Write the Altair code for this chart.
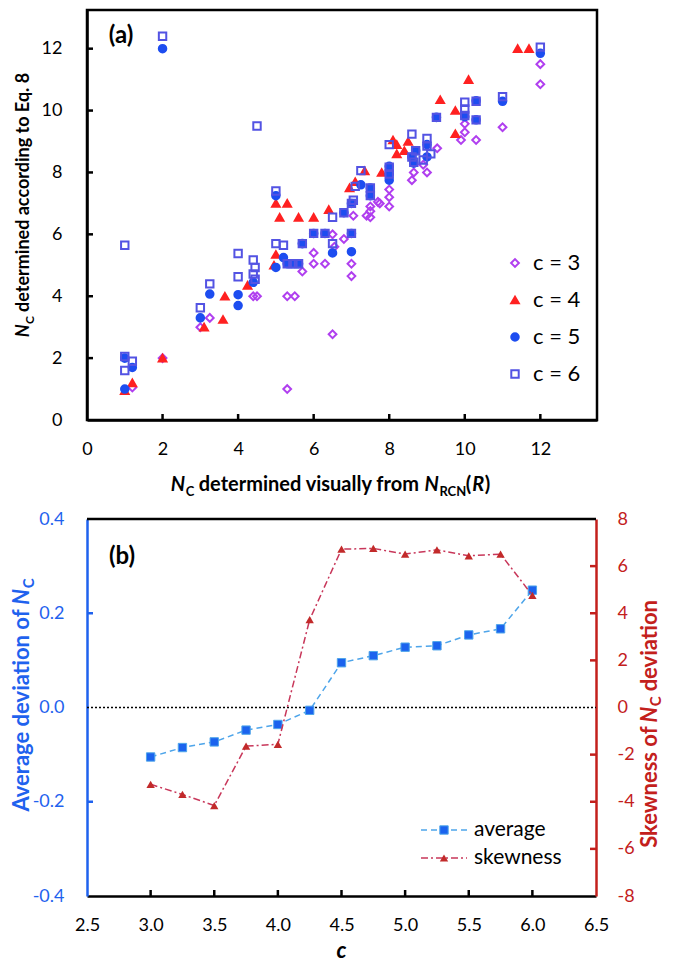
import altair as alt
import pandas as pd

FONT = "Lato"

# ---------------- panel (a) data ----------------
series_names = ["c = 3", "c = 4", "c = 5", "c = 6"]

c3_x = [1.2, 2.0, 3.0, 3.25, 4.4, 4.5, 5.3, 5.3, 5.5, 5.7, 6.0, 6.0, 6.3, 6.5, 6.5, 6.55, 6.8, 7.0, 7.0, 7.05,
        7.4, 7.5, 7.5, 7.5, 7.7, 7.75, 8.0, 8.0, 8.0, 8.6, 8.65, 8.9, 9.0, 9.27, 9.9, 10.0, 10.0, 10.3, 11.0, 12.0, 12.0]
c3_y = [1.05, 2.0, 3.0, 3.3, 4.0, 4.0, 4.0, 1.0, 4.0, 4.8, 5.4, 5.05, 5.05, 6.0, 2.77, 5.6, 5.85, 5.05, 4.65, 6.6,
        6.6, 6.9, 6.55, 6.75, 7.05, 7.0, 6.9, 7.2, 7.45, 7.75, 8.0, 8.25, 8.0, 8.78, 9.05, 9.3, 9.57, 9.05, 9.46, 11.5, 10.85]

c4_x = [1.0, 1.2, 2.0, 3.1, 3.6, 3.65, 4.25, 4.95, 5.0, 5.0, 5.3, 5.1, 5.6, 6.0, 6.4, 6.95, 7.1, 7.35, 7.8, 8.1,
        8.2, 8.2, 8.4, 8.5, 9.35, 9.75, 9.75, 10.1, 11.4, 11.7]
c4_y = [0.95, 1.2, 2.0, 3.0, 3.25, 4.0, 4.35, 5.0, 5.35, 7.0, 7.0, 6.55, 6.55, 6.55, 6.8, 7.5, 7.7, 8.05, 8.0, 9.05,
        8.9, 8.6, 8.7, 9.0, 10.35, 10.0, 9.25, 11.0, 12.0, 12.0]

c5_x = [1.0, 1.0, 1.2, 2.0, 3.0, 3.25, 4.0, 4.0, 4.4, 5.0, 5.0, 5.2, 5.3, 5.45, 5.6, 5.7, 6.0, 6.3, 6.5, 6.8,
        7.0, 7.0, 7.0, 7.25, 7.5, 7.5, 8.0, 8.0, 8.0, 8.6, 8.65, 8.7, 9.0, 9.0, 9.25, 10.0, 10.3, 10.3, 11.0, 12.0]
c5_y = [1.0, 2.0, 1.7, 12.0, 3.3, 4.07, 4.05, 3.7, 4.45, 4.93, 7.25, 5.25, 5.05, 5.05, 5.05, 5.7, 6.03, 6.03, 5.4, 6.7,
        5.44, 7.0, 6.03, 7.6, 7.25, 7.5, 7.95, 8.2, 7.75, 8.5, 8.3, 8.7, 8.5, 8.9, 9.78, 9.8, 10.32, 9.7, 10.3, 11.85]

c6_x = [1.0, 1.0, 1.0, 1.2, 2.0, 3.0, 3.25, 4.0, 4.0, 4.4, 4.45, 4.4, 4.45, 4.5, 5.0, 5.2, 5.0, 5.3, 5.45, 5.6,
        5.7, 6.0, 6.3, 6.5, 6.5, 6.8, 7.0, 7.0, 7.05, 7.1, 7.25, 7.5, 7.5, 8.0, 8.0, 8.0, 8.6, 8.6, 8.65, 8.7,
        8.9, 9.0, 9.0, 9.1, 9.25, 10.0, 10.0, 10.0, 10.3, 10.3, 11.0, 12.0]
c6_y = [5.65, 2.05, 1.6, 1.9, 12.4, 3.63, 4.4, 5.38, 4.63, 5.17, 4.93, 4.72, 4.55, 9.5, 5.7, 5.65, 7.4, 5.05, 5.05, 5.05,
        5.7, 6.03, 6.03, 6.55, 5.7, 6.7, 7.0, 6.03, 7.1, 7.55, 8.06, 7.5, 7.25, 8.17, 8.9, 7.95, 9.24, 8.5, 8.33, 8.7,
        8.4, 9.1, 8.85, 8.6, 9.78, 10.27, 10.05, 9.84, 10.3, 9.7, 10.45, 12.05]

xa_ticks = [0, 2, 4, 6, 8, 10, 12]
ya_ticks = [0, 2, 4, 6, 8, 10, 12]

# ---------------- panel (b) data ----------------
c_vals = [3.0, 3.25, 3.5, 3.75, 4.0, 4.25, 4.5, 4.75, 5.0, 5.25, 5.5, 5.75, 6.0]
avg_dev = [-0.105, -0.085, -0.073, -0.048, -0.036, -0.006, 0.095, 0.110, 0.128, 0.131, 0.154, 0.167, 0.249]
skewness = [-3.26, -3.69, -4.16, -1.64, -1.56, 3.73, 6.72, 6.75, 6.51, 6.69, 6.44, 6.51, 4.76]

xb_ticks = [2.5, 3.0, 3.5, 4.0, 4.5, 5.0, 5.5, 6.0, 6.5]
yl_ticks = [-0.4, -0.2, 0.0, 0.2, 0.4]
yr_ticks = [-8, -6, -4, -2, 0, 2, 4, 6, 8]

# ---------------- styling ----------------
VIOLET, RED4, BLUE5, SQ6 = "#B03FEF", "#FF2121", "#1D4DF0", "#5353E3"
LBLUE, MKBLUE = "#4EA5EA", "#1B63EE"
CRIM, DRED = "#C8375A", "#C22A2A"
AXBLUE, AXRED = "#1F62EE", "#C3201C"

WA, HA = 510, 410
WB, HB = 509, 377

CW = {" ": 0.23, "a": .52, "b": .58, "c": .47, "d": .58, "e": .54, "f": .34, "g": .52, "h": .58, "i": .26,
      "k": .54, "l": .26, "m": .87, "n": .58, "o": .58, "p": .58, "q": .58, "r": .39, "s": .44, "t": .37,
      "u": .58, "v": .54, "w": .82, "y": .54, "A": .70, "C": .67, "E": .56, "N": .76, "R": .64, "S": .53,
      "(": .33, ")": .33, ".": .24, "8": .58}
SCALE_W = 0.98


def tw(s, size):
    return sum(CW.get(ch, 0.55) for ch in s) * size * SCALE_W


one = pd.DataFrame({"k": [0]})


def txt(s, x, y, size, color="black", bold=True, italic=False, angle=0, align="left", baseline="alphabetic"):
    return alt.Chart(one).mark_text(
        font=FONT, fontSize=size, fontWeight="bold" if bold else "normal",
        fontStyle="italic" if italic else "normal", color=color, angle=angle,
        align=align, baseline=baseline,
    ).encode(x=alt.value(x), y=alt.value(y), text=alt.value(s))


def compose(segs, cx, cy, angle, color="black"):
    widths = [tw(s, size) for s, size, it, sh in segs]
    total = sum(widths)
    out = []
    pos = cx - total / 2 if angle == 0 else cy + total / 2
    for (s, size, it, sh), w in zip(segs, widths):
        lead = (len(s) - len(s.lstrip(" "))) * CW[" "] * size * SCALE_W
        body = s.strip(" ")
        if angle == 0:
            out.append(txt(body, pos + lead, cy + sh, size, color=color, italic=it))
            pos += w
        else:
            out.append(txt(body, cx + sh, pos - lead, size, color=color, italic=it, angle=270))
            pos -= w
    return out


# ---------------- panel (a) ----------------
rows = []
for name, xs, ys in zip(series_names, [c3_x, c4_x, c5_x, c6_x], [c3_y, c4_y, c5_y, c6_y]):
    for xv, yv in zip(xs, ys):
        rows.append({"x": xv, "y": yv, "series": name})
df_a = pd.DataFrame(rows)

xa_scale = alt.Scale(domain=[0, 13.5], nice=False, zero=False)
ya_scale = alt.Scale(domain=[0, 13.25], nice=False, zero=False)
xa_axis = alt.Axis(values=xa_ticks, format="d", labelFont=FONT, labelFontSize=18, labelColor="black",
                   labelPadding=20, ticks=False, domainColor="black", domainWidth=2.5, grid=False,
                   title=None, labelFlush=False, labelOverlap=False)
ya_axis = alt.Axis(values=ya_ticks, format="d", labelFont=FONT, labelFontSize=18, labelColor="black",
                   labelPadding=25, ticks=False, domainColor="black", domainWidth=2.5, grid=False,
                   title=None, labelFlush=False, labelOverlap=False)

leg = alt.Legend(orient="none", legendX=417, legendY=242, title=None, labelFont=FONT, labelFontSize=22,
                 labelColor="black", rowPadding=15, labelOffset=7, symbolStrokeWidth=2, symbolOpacity=1)

pts = alt.Chart(df_a).mark_point(strokeWidth=2, opacity=1).encode(
    x=alt.X("x:Q", scale=xa_scale, axis=xa_axis),
    y=alt.Y("y:Q", scale=ya_scale, axis=ya_axis),
    shape=alt.Shape("series:N", scale=alt.Scale(domain=series_names,
                    range=["diamond", "triangle-up", "circle", "square"]), legend=leg),
    stroke=alt.Stroke("series:N", scale=alt.Scale(domain=series_names, range=[VIOLET, RED4, BLUE5, SQ6]), legend=leg),
    fill=alt.Fill("series:N", scale=alt.Scale(domain=series_names,
                  range=["transparent", RED4, BLUE5, "transparent"]), legend=leg),
    size=alt.Size("series:N", scale=alt.Scale(domain=series_names, range=[60, 55, 45, 75]), legend=leg),
)

xt_a = alt.Chart(pd.DataFrame({"t": xa_ticks[1:]})).mark_rule(color="black", strokeWidth=2.5).encode(
    x=alt.X("t:Q", scale=xa_scale, axis=xa_axis), y=alt.value(HA), y2=alt.value(HA - 6))
yt_a = alt.Chart(pd.DataFrame({"t": ya_ticks[1:]})).mark_rule(color="black", strokeWidth=2.5).encode(
    y=alt.Y("t:Q", scale=ya_scale, axis=ya_axis), x=alt.value(0), x2=alt.value(6))

texts_a = [txt("(a)", 34, 26, 24, baseline="middle", align="center")]
texts_a += compose([("N", 20, True, 0), ("C", 13, False, 5), (" determined visually from ", 20, False, 0),
                    ("N", 20, True, 0), ("RCN", 13, False, 5), ("(", 20, False, 0), ("R", 20, True, 0),
                    (")", 20, False, 0)], 244, 481, 0)
texts_a += compose([("N", 18, True, 0), ("C", 12, False, 5), (" determined according to Eq. 8", 18, False, 0)],
                   -58, 196, 270)

panel_a = alt.layer(xt_a, yt_a, pts, *texts_a).properties(
    width=WA, height=HA, view=alt.ViewBackground(stroke="black", strokeWidth=2.5))

# ---------------- panel (b) ----------------
df_b = pd.DataFrame({"c": c_vals, "avg": avg_dev, "skew": skewness})

xb_scale = alt.Scale(domain=[2.5, 6.5], nice=False, zero=False)
yl_scale = alt.Scale(domain=[-0.4, 0.4], nice=False, zero=False)
yr_scale = alt.Scale(domain=[-8, 8], nice=False, zero=False)

xb_axis = alt.Axis(values=xb_ticks, format=".1f", labelFont=FONT, labelFontSize=18, labelColor="black",
                   labelPadding=20, ticks=False, domainColor="black", domainWidth=2.5, grid=False,
                   title=None, labelFlush=False, labelOverlap=False)
yl_axis = alt.Axis(orient="left", values=yl_ticks, labelExpr="replace(format(datum.value, '.1f'), '−', '-')",
                   labelFont=FONT, labelFontSize=18, labelColor=AXBLUE, labelPadding=23, ticks=False,
                   domainColor=AXBLUE, domainWidth=2.5, grid=False, title=None, labelFlush=False,
                   labelOverlap=False)
yr_axis = alt.Axis(orient="right", values=yr_ticks, labelExpr="replace(format(datum.value, 'd'), '−', '-')",
                   labelFont=FONT, labelFontSize=18, labelColor=AXRED, labelPadding=21, ticks=False,
                   domainColor=AXRED, domainWidth=2.5, grid=False, title=None, labelFlush=False,
                   labelOverlap=False)

X_b = alt.X("c:Q", scale=xb_scale, axis=xb_axis)

zero_line = alt.Chart(pd.DataFrame({"z": [0.0]})).mark_rule(color="black", strokeDash=[2, 2], strokeWidth=1.5).encode(
    y=alt.Y("z:Q", scale=yl_scale, axis=yl_axis), x=alt.value(0), x2=alt.value(WB))
avg_line = alt.Chart(df_b).mark_line(color=LBLUE, strokeDash=[6, 4], strokeWidth=1.5).encode(
    x=X_b, y=alt.Y("avg:Q", scale=yl_scale, axis=yl_axis))
avg_pts = alt.Chart(df_b).mark_point(shape="square", filled=True, size=70, fill=MKBLUE, stroke=LBLUE,
                                     strokeWidth=1, opacity=1).encode(
    x=X_b, y=alt.Y("avg:Q", scale=yl_scale, axis=yl_axis))
yl_t = alt.Chart(pd.DataFrame({"t": [-0.2, 0.2]})).mark_rule(color=AXBLUE, strokeWidth=2.5).encode(
    y=alt.Y("t:Q", scale=yl_scale, axis=yl_axis), x=alt.value(0), x2=alt.value(6))
xb_t = alt.Chart(pd.DataFrame({"t": xb_ticks[1:-1]})).mark_rule(color="black", strokeWidth=2.5).encode(
    x=alt.X("t:Q", scale=xb_scale, axis=xb_axis), y=alt.value(HB), y2=alt.value(HB - 6))
top_border = alt.Chart(one).mark_rule(color="black", strokeWidth=2.5).encode(
    x=alt.value(0), x2=alt.value(WB), y=alt.value(0))

leg_b = [
    alt.Chart(one).mark_rule(color=LBLUE, strokeDash=[6, 4], strokeWidth=1.5).encode(
        x=alt.value(334), x2=alt.value(380), y=alt.value(311)),
    alt.Chart(one).mark_point(shape="square", filled=True, size=70, fill=MKBLUE, stroke=LBLUE, strokeWidth=1,
                              opacity=1).encode(x=alt.value(357), y=alt.value(311)),
    txt("average", 387, 311, 21, bold=False, baseline="middle"),
    alt.Chart(one).mark_rule(color=CRIM, strokeDash=[7, 3, 2, 3], strokeWidth=1.5).encode(
        x=alt.value(334), x2=alt.value(380), y=alt.value(339)),
    alt.Chart(one).mark_point(shape="triangle-up", filled=True, size=70, fill=DRED, opacity=1).encode(
        x=alt.value(357), y=alt.value(339)),
    txt("skewness", 387, 339, 21, bold=False, baseline="middle"),
]

texts_b = [txt("(b)", 35, 38, 24, baseline="middle", align="center")]
texts_b += compose([("Average deviation of ", 22, False, 0), ("N", 22, True, 0), ("C", 15, False, 5)],
                   -58, 176, 270, color=AXBLUE)
texts_b += compose([("Skewness of ", 22, False, 0), ("N", 22, True, 0), ("C", 15, False, 4),
                    (" deviation", 22, False, 0)], 570, 205, 270, color=AXRED)
texts_b += [txt("c", WB / 2, 439, 22, italic=True, align="center")]

left_group = alt.layer(zero_line, avg_line, avg_pts, yl_t, xb_t, top_border, *leg_b, *texts_b)

skew_line = alt.Chart(df_b).mark_line(color=CRIM, strokeDash=[7, 3, 2, 3], strokeWidth=1.5).encode(
    x=X_b, y=alt.Y("skew:Q", scale=yr_scale, axis=yr_axis))
skew_pts = alt.Chart(df_b).mark_point(shape="triangle-up", filled=True, size=70, fill=DRED, opacity=1).encode(
    x=X_b, y=alt.Y("skew:Q", scale=yr_scale, axis=yr_axis))
yr_t = alt.Chart(pd.DataFrame({"t": [-6, -4, -2, 2, 4, 6]})).mark_rule(color=AXRED, strokeWidth=2.5).encode(
    y=alt.Y("t:Q", scale=yr_scale, axis=yr_axis), x=alt.value(WB - 6), x2=alt.value(WB))

right_group = alt.layer(skew_line, skew_pts, yr_t)

panel_b = alt.layer(left_group, right_group).resolve_scale(y="independent").properties(
    width=WB, height=HB, view=alt.ViewBackground(stroke="transparent"))

chart = alt.vconcat(panel_a, panel_b, spacing=8).properties(
    padding={"left": 2, "top": 0, "right": 0, "bottom": 0}, background="white")

chart.save("out.html", embed_options={"renderer": "svg", "actions": False})
